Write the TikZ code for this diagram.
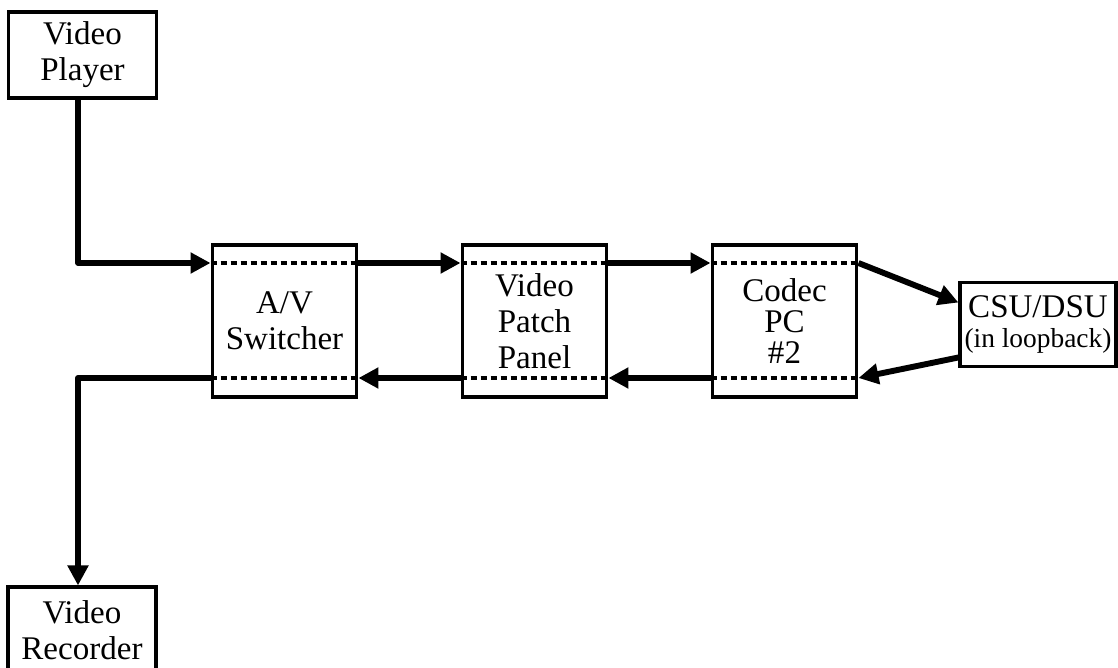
\documentclass[tikz,border=0pt]{standalone}
\usepackage{fontspec}
\setmainfont{Liberation Serif}
\usetikzlibrary{arrows.meta, calc, positioning}

\tikzset{
    unit/.style={draw, line width=2.2pt, align=center, inner sep=0pt,
        font=\fontsize{23.5}{25.5}\selectfont},
    flow/.style={line width=4.2pt, line join=round,
        -{Triangle[length=0.5cm, width=0.5cm]}},
    rail/.style={line width=2.8pt, dash pattern=on 0.15cm off 0.1cm}
}

\begin{document}
\begin{tikzpicture}[x=0.025cm, y=-0.025cm]
        \useasboundingbox (0,0) rectangle (1118,668);

        % the two signal rails running through the rack
        \coordinate (upper) at (0,263);
        \coordinate (lower) at (0,378);

        \node[unit, minimum width=3.68cm, minimum height=2.15cm] (player) at (82.5,55) {Video\\Player};
        \node[unit, minimum width=3.62cm, minimum height=3.8cm] (switch) at (284.5,321) {A/V\\Switcher};
        \node[unit, minimum width=3.62cm, minimum height=3.8cm] (patch) at (534.5,321) {Video\\Patch\\Panel};
        \node[unit, minimum width=3.62cm, minimum height=3.8cm,
            font=\fontsize{23.5}{22}\selectfont] (codec) at (784.5,321) {Codec\\PC\\\#2};
        \node[unit, minimum width=3.9cm, minimum height=2.12cm] (csu) at (1038,324.5)
            {CSU/DSU\\[-4pt]{\fontsize{19.5}{22}\selectfont (in loopback)}};
        \node[unit, minimum width=3.7cm, minimum height=2.15cm] (recorder) at (82,630) {Video\\Recorder};

        \foreach \b in {switch,patch,codec} {
            \draw[rail] (\b.west |- upper) -- (\b.east |- upper);
            \draw[rail] (\b.west |- lower) -- (\b.east |- lower);
        }

        % forward path
        \draw[flow] ([xshift=-0.11cm]player.south) |- (switch.west |- upper);
        \draw[flow] (switch.east |- upper) -- (patch.west |- upper);
        \draw[flow] (patch.east |- upper) -- (codec.west |- upper);
        \draw[flow] (codec.east |- upper) -- ($(csu.west)!0.5!(csu.north west)$);

        % return path
        \draw[flow] ($(csu.west)!0.75!(csu.south west)$) -- (codec.east |- lower);
        \draw[flow] (codec.west |- lower) -- (patch.east |- lower);
        \draw[flow] (patch.west |- lower) -- (switch.east |- lower);
        \draw[flow] (switch.west |- lower) -| ([xshift=-0.1cm]recorder.north);
\end{tikzpicture}
\end{document}
